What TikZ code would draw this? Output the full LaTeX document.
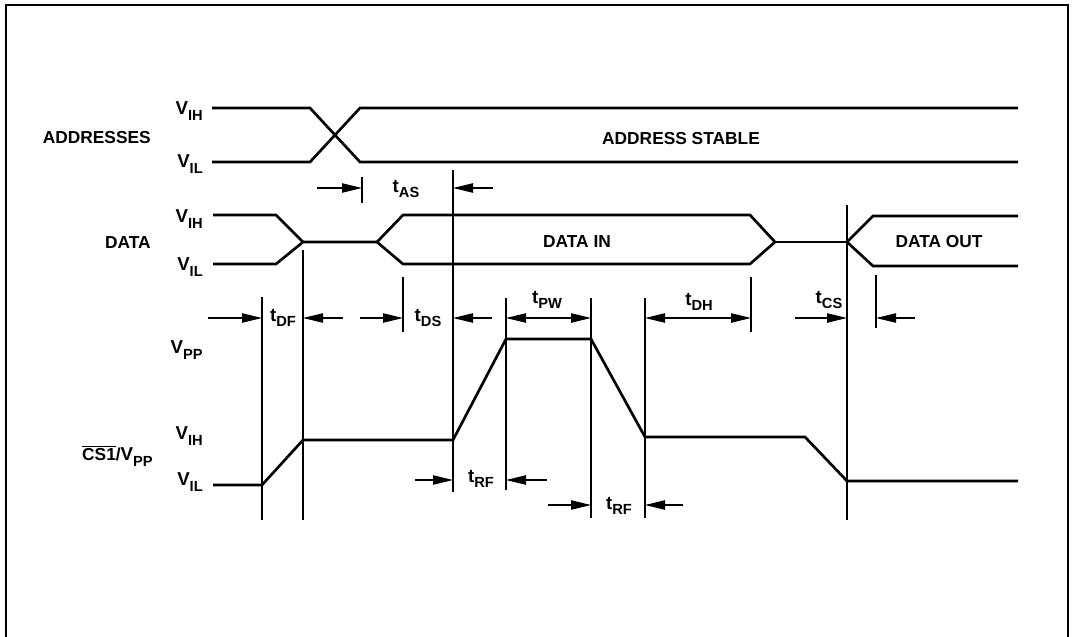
\documentclass[tikz,border=0pt]{standalone}
\usepackage{fontspec}
\setmainfont{Liberation Sans}
\usetikzlibrary{arrows.meta}
\newcommand\sig[2]{{\fontsize{14}{15}\selectfont #1\raisebox{-0.55ex}{\fontsize{11}{12}\selectfont #2}}}
\newcommand\tm[1]{\sig{t}{#1}}
\tikzset{
  wave/.style={line width=2pt, line join=miter},
  tick/.style={line width=0.8pt},
  frame/.style={line width=2.2pt},
  arr/.style={line width=0.9pt, -{Triangle[length=15pt,width=7pt]}},
  darr/.style={line width=0.9pt, {Triangle[length=15pt,width=7pt]}-{Triangle[length=15pt,width=7pt]}},
  lbl/.style={font=\fontsize{13}{15}\selectfont\bfseries, inner sep=0pt},
}
\begin{document}
\begin{tikzpicture}[x=0.75pt, y=-0.75pt]
\useasboundingbox (0,0) rectangle (1073,636);
\fill[white] (0,0) rectangle (1073,636);

% outer frame, open at the bottom
\draw[frame] (6,640) -- (6,5) -- (1068,5) -- (1068,640);

% ---------- waveform corner points ----------
% addresses
\coordinate (a1) at (212,108); \coordinate (a2) at (310,108);
\coordinate (a3) at (360,162); \coordinate (a4) at (1018,162);
\coordinate (b1) at (212,162); \coordinate (b2) at (310,162);
\coordinate (b3) at (360,108); \coordinate (b4) at (1018,108);
% data
\coordinate (dh1) at (213,215); \coordinate (dh2) at (276,215);
\coordinate (dl1) at (213,264); \coordinate (dl2) at (276,264);
\coordinate (dm1) at (303,242); \coordinate (dm2) at (377,242);
\coordinate (di1) at (403,215); \coordinate (di2) at (750,215);
\coordinate (di3) at (775,242); \coordinate (di4) at (750,264);
\coordinate (di5) at (403,264);
\coordinate (do0) at (847,242);
\coordinate (do1) at (873,216); \coordinate (do2) at (1018,216);
\coordinate (do3) at (873,266); \coordinate (do4) at (1018,266);
% chip select / programming voltage
\coordinate (c1) at (213,485); \coordinate (c2) at (262,485);
\coordinate (c3) at (303,440); \coordinate (c4) at (453,440);
\coordinate (c5) at (506,339); \coordinate (c6) at (591,339);
\coordinate (c7) at (645,437); \coordinate (c8) at (805,437);
\coordinate (c9) at (847,481); \coordinate (c10) at (1018,481);

% ---------- waveforms ----------
\draw[wave] (a1) -- (a2) -- (a3) -- (a4);
\draw[wave] (b1) -- (b2) -- (b3) -- (b4);
\draw[wave] (dh1) -- (dh2) -- (dm1);
\draw[wave] (dl1) -- (dl2) -- (dm1) -- (dm2);
\draw[wave] (dm2) -- (di1) -- (di2) -- (di3) -- (di4) -- (di5) -- cycle;
\draw[wave] (di3) -- (do0);
\draw[wave] (do2) -- (do1) -- (do0) -- (do3) -- (do4);
\draw[wave] (c1) -- (c2) -- (c3) -- (c4) -- (c5) -- (c6) -- (c7) -- (c8) -- (c9) -- (c10);

% ---------- timing reference lines ----------
\coordinate (v1t) at (262,297); \coordinate (v1b) at (262,520);
\coordinate (v2t) at (303,250); \coordinate (v2b) at (303,520);
\coordinate (v3t) at (362,177); \coordinate (v3b) at (362,203);
\coordinate (v4t) at (403,277); \coordinate (v4b) at (403,332);
\coordinate (v5t) at (453,170); \coordinate (v5b) at (453,492);
\coordinate (v6t) at (506,298); \coordinate (v6b) at (506,490);
\coordinate (v7t) at (591,298); \coordinate (v7b) at (591,518);
\coordinate (v8t) at (645,298); \coordinate (v8b) at (645,518);
\coordinate (v9t) at (751,277); \coordinate (v9b) at (751,332);
\coordinate (v10t) at (847,205); \coordinate (v10b) at (847,520);
\coordinate (v11t) at (876,275); \coordinate (v11b) at (876,328);
\foreach \i in {1,...,11} \draw[tick] (v\i t) -- (v\i b);

% ---------- timing arrows ----------
\coordinate (asA) at (317,188); \coordinate (asB) at (362,188);
\coordinate (asC) at (493,188); \coordinate (asD) at (453,188);
\draw[arr] (asA) -- (asB);
\draw[arr] (asC) -- (asD);

\coordinate (dfA) at (208,318); \coordinate (dfB) at (262,318);
\coordinate (dfC) at (343,318); \coordinate (dfD) at (303,318);
\draw[arr] (dfA) -- (dfB);
\draw[arr] (dfC) -- (dfD);

\coordinate (dsA) at (360,318); \coordinate (dsB) at (403,318);
\coordinate (dsC) at (492,318); \coordinate (dsD) at (453,318);
\draw[arr] (dsA) -- (dsB);
\draw[arr] (dsC) -- (dsD);

\coordinate (pwA) at (506,318); \coordinate (pwB) at (591,318);
\draw[darr] (pwA) -- (pwB);

\coordinate (dhA) at (645,318); \coordinate (dhB) at (751,318);
\draw[darr] (dhA) -- (dhB);

\coordinate (csA) at (795,318); \coordinate (csB) at (847,318);
\coordinate (csC) at (915,318); \coordinate (csD) at (876,318);
\draw[arr] (csA) -- (csB);
\draw[arr] (csC) -- (csD);

\coordinate (rfA) at (415,480); \coordinate (rfB) at (453,480);
\coordinate (rfC) at (547,480); \coordinate (rfD) at (506,480);
\draw[arr] (rfA) -- (rfB);
\draw[arr] (rfC) -- (rfD);

\coordinate (rgA) at (548,505); \coordinate (rgB) at (591,505);
\coordinate (rgC) at (683,505); \coordinate (rgD) at (645,505);
\draw[arr] (rgA) -- (rgB);
\draw[arr] (rgC) -- (rgD);

% ---------- signal names and levels ----------
\node[lbl, anchor=east] (addr) at (151,138) {ADDRESSES};
\node[lbl, anchor=east] (aih) at (203,111) {\sig{V}{IH}};
\node[lbl, anchor=east] (ail) at (203,164) {\sig{V}{IL}};
\node[lbl, anchor=east] (data) at (151,243) {DATA};
\node[lbl, anchor=east] (dih) at (203,219) {\sig{V}{IH}};
\node[lbl, anchor=east] (dil) at (203,267) {\sig{V}{IL}};
\node[lbl, anchor=east] (cs) at (153,456) {$\overline{\mbox{CS1}}$/\sig{V}{PP}};
\node[lbl, anchor=east] (cpp) at (203,350) {\sig{V}{PP}};
\node[lbl, anchor=east] (cih) at (203,436) {\sig{V}{IH}};
\node[lbl, anchor=east] (cil) at (203,482) {\sig{V}{IL}};

\node[lbl] (stable) at (681,139) {ADDRESS STABLE};
\node[lbl] (din) at (577,242) {DATA IN};
\node[lbl] (dout) at (939,242) {DATA OUT};

% ---------- timing parameter names ----------
\node[lbl] (tas) at (406,189) {\tm{AS}};
\node[lbl] (tdf) at (283,318) {\tm{DF}};
\node[lbl] (tds) at (428,318) {\tm{DS}};
\node[lbl] (tpw) at (547,300) {\tm{PW}};
\node[lbl] (tdh) at (699,302) {\tm{DH}};
\node[lbl] (tcs) at (829,300) {\tm{CS}};
\node[lbl] (trf1) at (481,479) {\tm{RF}};
\node[lbl] (trf2) at (619,506) {\tm{RF}};
\end{tikzpicture}
\end{document}
